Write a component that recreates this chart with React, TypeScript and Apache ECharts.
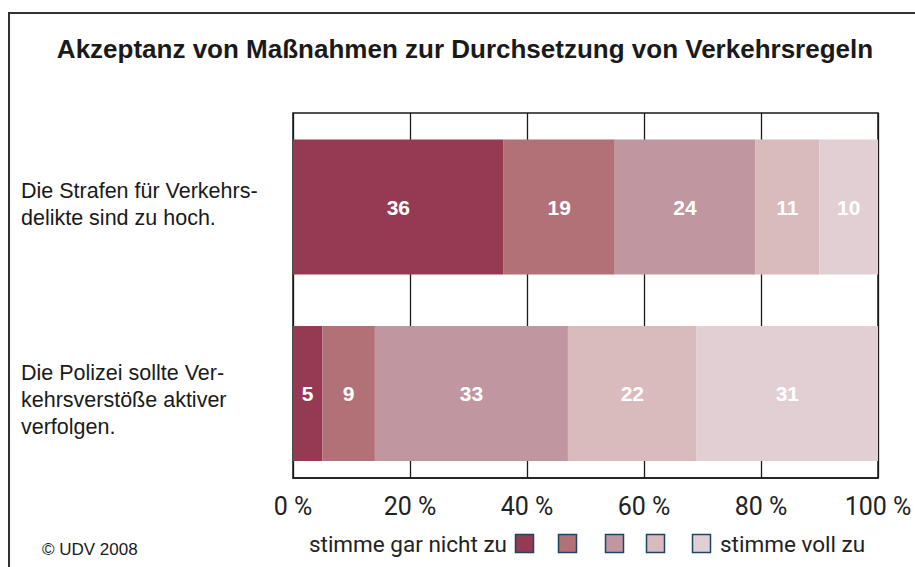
import React, { useEffect, useRef } from "react";
import * as echarts from "echarts";

const title = "Akzeptanz von Maßnahmen zur Durchsetzung von Verkehrsregeln";
const categories = [
  "Die Strafen für Verkehrs-\ndelikte sind zu hoch.",
  "Die Polizei sollte Ver-\nkehrsverstöße aktiver\nverfolgen.",
];
const seriesNames = ["stimme gar nicht zu", "2", "3", "4", "stimme voll zu"];
const s1 = [36, 5];
const s2 = [19, 9];
const s3 = [24, 33];
const s4 = [11, 22];
const s5 = [10, 31];
const seriesValues = [s1, s2, s3, s4, s5];
const colors = ["#963a54", "#b27177", "#c097a0", "#d9babd", "#e2cfd4"];
const xTicks = [0, 20, 40, 60, 80, 100];
const legendLeft = "stimme gar nicht zu";
const legendRight = "stimme voll zu";
const credit = "© UDV 2008";

export default function App() {
  const ref = useRef<HTMLDivElement>(null);
  useEffect(() => {
    const chart = echarts.init(ref.current!, null, { renderer: "svg" });
    const legendXs = [515, 558, 605, 646, 692];
    const legendGraphics: any[] = legendXs.map((x, i) => ({
      type: "rect",
      shape: { x: x + 0.5, y: 534.5, width: 18, height: 18 },
      style: { fill: colors[i], stroke: "#1f4565", lineWidth: 1.5 },
    }));
    const arial = "Liberation Sans, Arial, sans-serif";
    const narrow = "Liberation Sans Narrow, Roboto, sans-serif";
    chart.setOption({
      animation: false,
      backgroundColor: "#ffffff",
      title: {
        text: title,
        left: 460,
        top: 31,
        textAlign: "center",
        textStyle: {
          fontFamily: arial,
          fontWeight: "bold",
          fontSize: 26,
          color: "#1a1a1a",
        },
      },
      grid: [
        {
          left: 293,
          right: 37,
          top: 113,
          bottom: 89,
          show: true,
          borderColor: "#1a1a1a",
          borderWidth: 1.5,
          containLabel: false,
        },
        {
          left: 293,
          right: 37,
          top: 113.75,
          height: 373,
          show: false,
          containLabel: false,
        },
      ],
      xAxis: [
        {
          type: "value",
          gridIndex: 0,
          min: xTicks[0],
          max: xTicks[xTicks.length - 1],
          interval: 20,
          axisLine: { show: true, lineStyle: { color: "#1a1a1a", width: 1.5 } },
          axisTick: { show: false },
          splitLine: { show: true, lineStyle: { color: "#1a1a1a", width: 1.3 } },
          axisLabel: {
            formatter: "{value} %",
            margin: 16,
            fontSize: 25,
            color: "#222",
            fontFamily: narrow,
          },
        },
        {
          type: "value",
          gridIndex: 1,
          min: xTicks[0],
          max: xTicks[xTicks.length - 1],
          interval: 20,
          show: false,
        },
      ],
      yAxis: [
        {
          type: "category",
          gridIndex: 0,
          inverse: true,
          data: categories,
          axisLine: { show: false },
          axisTick: { show: false },
          splitLine: { show: false },
          axisLabel: {
            align: "left",
            margin: 272,
            fontSize: 21.5,
            lineHeight: 27,
            color: "#1a1a1a",
            fontFamily: arial,
            formatter: (v: string, i: number) => (i === 1 ? "\n" + v : v),
          },
        },
        {
          type: "category",
          gridIndex: 1,
          inverse: true,
          data: categories,
          show: false,
        },
      ],
      series: seriesValues.map((vals, i) => ({
        name: seriesNames[i],
        type: "bar",
        stack: "total",
        xAxisIndex: 1,
        yAxisIndex: 1,
        data: vals,
        barWidth: 135,
        itemStyle: { color: colors[i] },
        label: {
          show: true,
          position: "inside",
          color: "#ffffff",
          fontWeight: "bold",
          fontSize: 21,
          fontFamily: arial,
        },
      })),
      graphic: [
        {
          type: "rect",
          shape: { x: 9, y: 13, width: 940, height: 600 },
          style: { fill: "none", stroke: "#333", lineWidth: 2 },
          silent: true,
        },
        {
          type: "text",
          x: 42,
          y: 549,
          style: {
            text: credit,
            fontSize: 17,
            fill: "#1a1a1a",
            fontFamily: arial,
            verticalAlign: "middle",
          },
        },
        {
          type: "text",
          x: 507,
          y: 544,
          style: {
            text: legendLeft,
            fontSize: 22.5,
            fill: "#222",
            align: "right",
            verticalAlign: "middle",
            fontFamily: narrow,
          },
        },
        {
          type: "text",
          x: 720,
          y: 544,
          style: {
            text: legendRight,
            fontSize: 22.5,
            fill: "#222",
            align: "left",
            verticalAlign: "middle",
            fontFamily: narrow,
          },
        },
        ...legendGraphics,
      ],
    });
    return () => chart.dispose();
  }, []);
  return (
    <div
      ref={ref}
      style={{ position: "fixed", left: 0, top: 0, width: 915, height: 567 }}
    />
  );
}
